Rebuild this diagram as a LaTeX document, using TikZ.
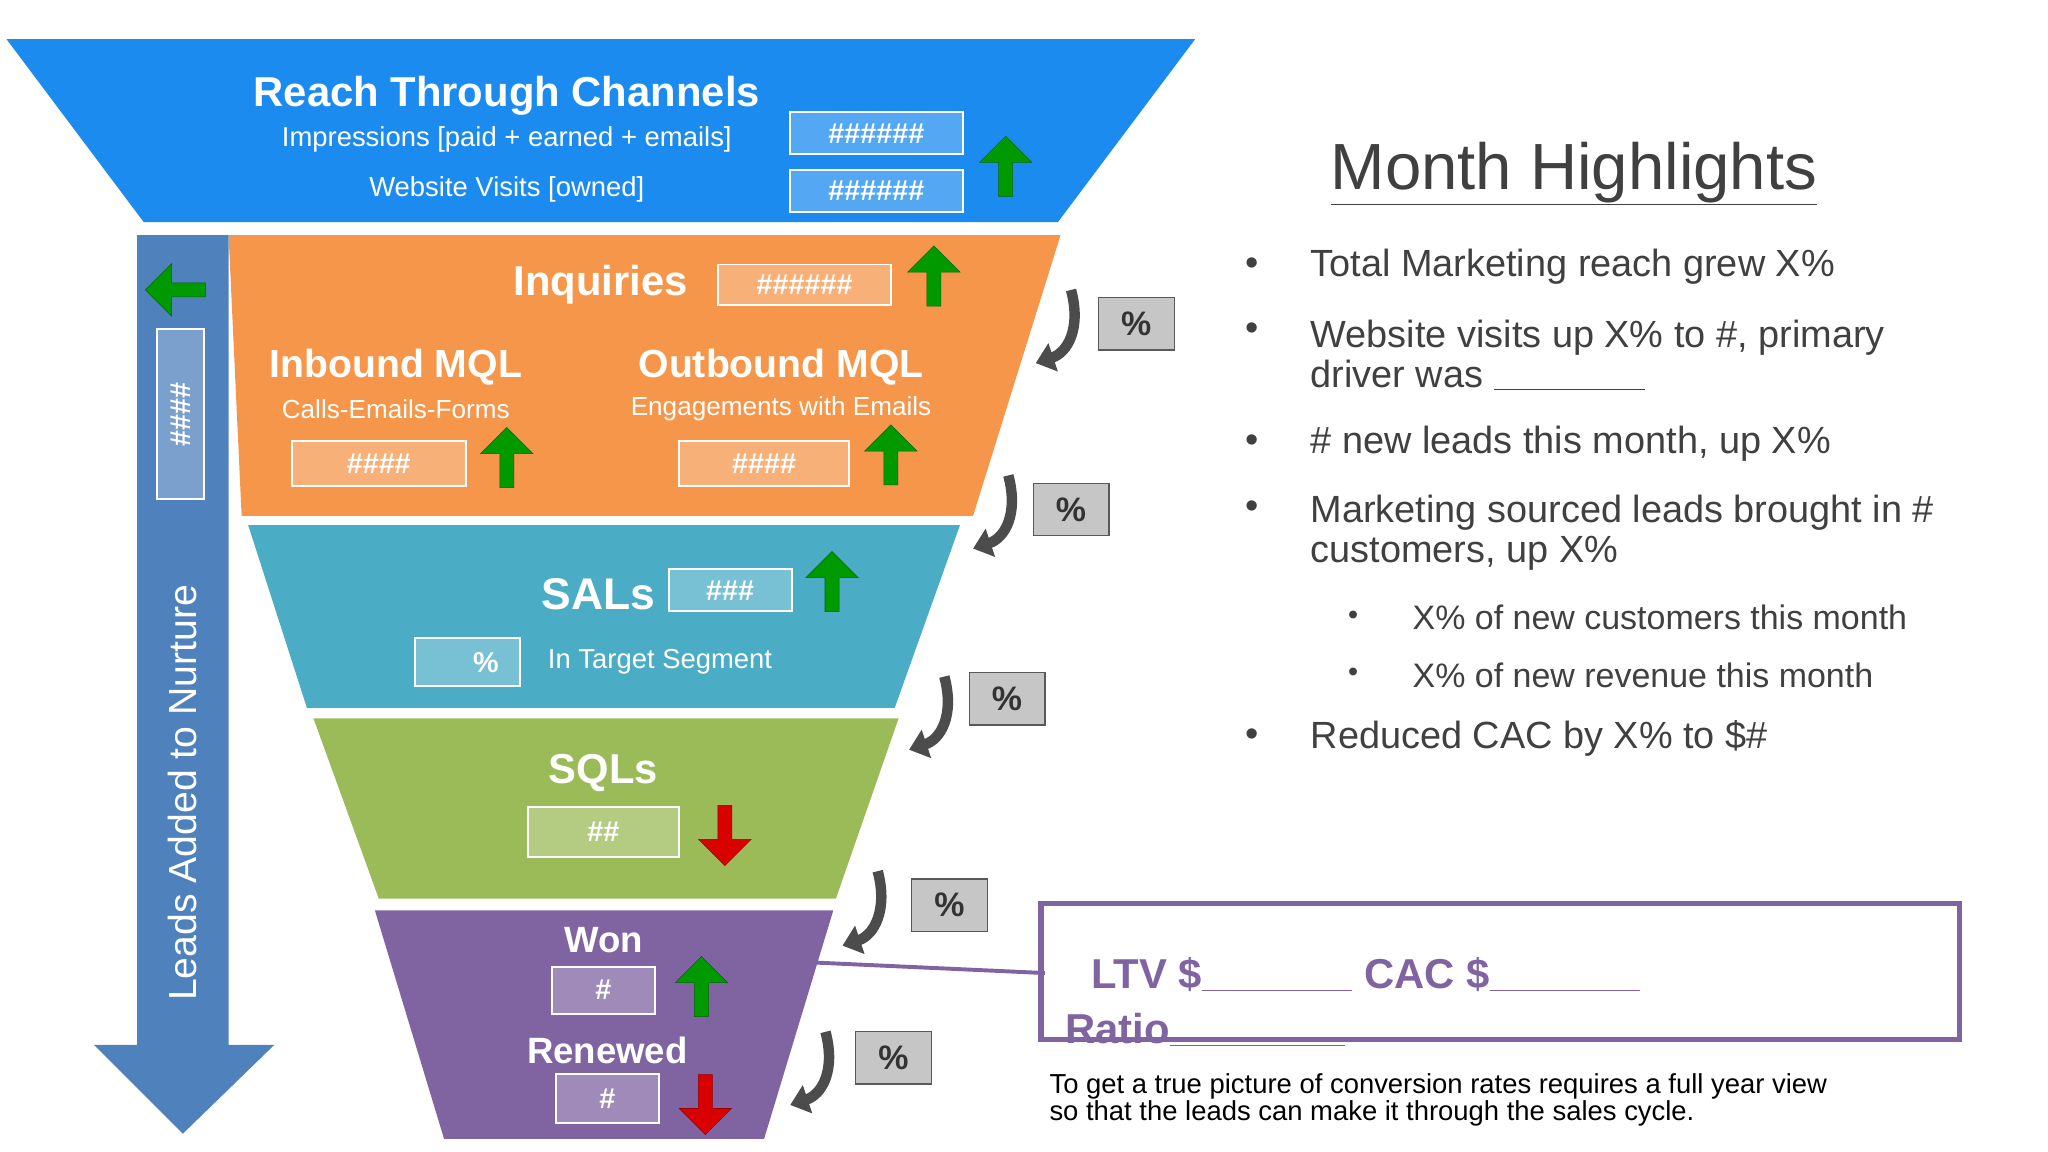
\documentclass[tikz,border=0pt]{standalone}
\usepackage{fontspec}
\setmainfont{Liberation Sans}
\usetikzlibrary{shapes.arrows,arrows.meta,calc}
\definecolor{fblue}{HTML}{1B8BEF}
\definecolor{forange}{HTML}{F5964A}
\definecolor{fteal}{HTML}{4BACC6}
\definecolor{fgreen}{HTML}{9BBB59}
\definecolor{fpurple}{HTML}{8064A2}
\definecolor{nblue}{HTML}{4F81BD}
\definecolor{txt}{HTML}{404040}
\tikzset{
 fs/.style={font=\fontsize{#1}{#1}\selectfont},
 wt/.style={text=white,font=\bfseries\fontsize{#1}{#1}\selectfont},
 hbox/.style={draw=white,line width=1.5pt,fill=white,fill opacity=0.25,text opacity=1,text=white,font=\bfseries\fontsize{22}{22}\selectfont,inner sep=0pt},
 pbox/.style={draw=gray!70!black,line width=1pt,fill=gray!45,minimum width=58,minimum height=40,font=\bfseries\fontsize{26}{26}\selectfont,text=black!80},
 up/.style={single arrow,fill=green!60!black,draw=green!40!black,minimum height=46,minimum width=40,single arrow head extend=6,shape border rotate=90,inner sep=2pt},
 down/.style={single arrow,fill=red!85!black,draw=red!60!black,minimum height=46,minimum width=40,single arrow head extend=6,shape border rotate=270,inner sep=2pt},
 curv/.style={line width=8pt,draw=black!70,-{Triangle[length=14pt,width=22pt]}},
 bul/.style={fs=29,text=txt,anchor=west},
}
\begin{document}
\begin{tikzpicture}[x=1pt,y=-1pt]
\useasboundingbox (0,0) rectangle (1568,882);
% funnel
\fill[fblue] (5,30)--(915,30)--(810,170)--(110,170)--cycle;
\fill[forange] (175,180)--(812,180)--(745,395)--(185,395)--cycle;
\fill[fteal] (190,402)--(735,402)--(685,542)--(235,542)--cycle;
\fill[fgreen] (240,550)--(688,550)--(640,688)--(290,688)--cycle;
\fill[fpurple] (287,697)--(638,697)--(585,872)--(340,872)--cycle;
% nurture arrow
\fill[nblue] (105,180)--(175,180)--(175,800)--(210,800)--(140,868)--(72,800)--(105,800)--cycle;
\node[rotate=90,text=white,fs=30] (nurt) at (140,607) {Leads Added to Nurture};
\node[hbox,rotate=90,minimum width=130,minimum height=36] (nb) at (138,317) {\#\#\#\#};
\node[up,shape border rotate=180] (nl) at (137,222) {};
% top
\node[wt=32] (reach) at (388,73) {Reach Through Channels};
\node[text=white,fs=21] (imp) at (388,107) {Impressions [paid + earned + emails]};
\node[text=white,fs=21] (web) at (388,145) {Website Visits [owned]};
\node[hbox,minimum width=132,minimum height=32] (b1) at (671,102) {\#\#\#\#\#\#};
\node[hbox,minimum width=132,minimum height=32] (b2) at (671,146) {\#\#\#\#\#\#};
\node[up] (u1) at (770,130) {};
% orange
\node[wt=32] (inq) at (460,218) {Inquiries};
\node[hbox,minimum width=133,minimum height=31] (b3) at (616,218) {\#\#\#\#\#\#};
\node[up] (u2) at (715,214) {};
\node[wt=30] (in) at (303,281) {Inbound MQL};
\node[text=white,fs=20] (ins) at (303,313) {Calls-Emails-Forms};
\node[hbox,minimum width=133,minimum height=34] (b4) at (290,355) {\#\#\#\#};
\node[up] (u3) at (388,353) {};
\node[wt=30] (out) at (598,281) {Outbound MQL};
\node[text=white,fs=20] (outs) at (598,313) {Engagements with Emails};
\node[hbox,minimum width=130,minimum height=34] (b5) at (585,355) {\#\#\#\#};
\node[up] (u4) at (682,351) {};
% teal
\node[wt=34] (sal) at (458,455) {SALs};
\node[hbox,minimum width=94,minimum height=32] (b6) at (559,452) {\#\#\#};
\node[up] (u5) at (637,448) {};
\node[hbox,minimum width=80,minimum height=37] (b7) at (358,507) {\hspace*{28pt}\%};
\node[text=white,fs=21,anchor=west] (tgt) at (416,507) {In Target Segment};
% green
\node[wt=32] (sql) at (462,592) {SQLs};
\node[hbox,minimum width=116,minimum height=38] (b8) at (462,637) {\#\#};
\node[down] (d1) at (555,637) {};
% purple
\node[wt=28] (won) at (462,720) {Won};
\node[hbox,minimum width=79,minimum height=36] (b9) at (462,758) {\#};
\node[up] (u6) at (537,758) {};
\node[wt=28] (ren) at (465,804) {Renewed};
\node[hbox,minimum width=79,minimum height=37] (b10) at (465,841) {\#};
\node[down] (d2) at (540,843) {};
% percent boxes and curved arrows
\node[pbox] (p1) at (870,248) {\%};
\node[pbox] (p2) at (820,390) {\%};
\node[pbox] (p3) at (771,535) {\%};
\node[pbox] (p4) at (727,693) {\%};
\node[pbox] (p5) at (684,810) {\%};
\coordinate (c1a) at (820,222); \coordinate (c1b) at (793,278);
\coordinate (c2a) at (772,364); \coordinate (c2b) at (745,420);
\coordinate (c3a) at (723,518); \coordinate (c3b) at (696,574);
\coordinate (c4a) at (672,667); \coordinate (c4b) at (645,724);
\coordinate (c5a) at (632,790); \coordinate (c5b) at (605,846);
\foreach \i in {1,...,5}{\draw[curv] (c\i a) .. controls ($(c\i a)+(8,30)$) and ($(c\i b)+(24,-8)$) .. (c\i b);}
% right text
\node[fs=50,text=txt] (mh) at (1205,133) {\underline{Month Highlights}};
\foreach \y in {204,254,340,390,565}{\node[bul] at (950,\y) {•};}
\foreach \y in {473,517}{\node[fs=22,text=txt] at (1036,\y) {•};}
\node[bul] (t1) at (1000,204) {Total Marketing reach grew X\%};
\node[bul,align=left] (t2) at (1000,272) {Website visits up X\% to \#, primary\\[2pt]driver was \underline{\hspace{4em}}};
\node[bul] (t3) at (1000,340) {\# new leads this month, up X\%};
\node[bul,align=left] (t4) at (1000,408) {Marketing sourced leads brought in \#\\[2pt]customers, up X\%};
\node[bul,fs=26] (t5) at (1078,473) {X\% of new customers this month};
\node[bul,fs=26] (t6) at (1078,517) {X\% of new revenue this month};
\node[bul] (t7) at (1000,565) {Reduced CAC by X\% to \$\#};
% LTV box
\draw[fpurple,line width=4pt] (797,692) rectangle (1500,796);
\coordinate (bx) at (800,745);
\coordinate (fx) at (625,737);
\draw[fpurple,line width=3pt] (fx)--(bx);
\node[text=fpurple,font=\bfseries\fontsize{32}{32}\selectfont,anchor=west] (ltv) at (832,746) {LTV \$\underline{\hspace{3.6em}} CAC \$\underline{\hspace{3.6em}}};
\node[text=fpurple,font=\bfseries\fontsize{32}{32}\selectfont,anchor=west] (rat) at (812,788) {Ratio\underline{\hspace{4.2em}}};
\node[fs=21,anchor=west,align=left] (note) at (800,842) {To get a true picture of conversion rates requires a full year view\\so that the leads can make it through the sales cycle.};
\end{tikzpicture}
\end{document}
